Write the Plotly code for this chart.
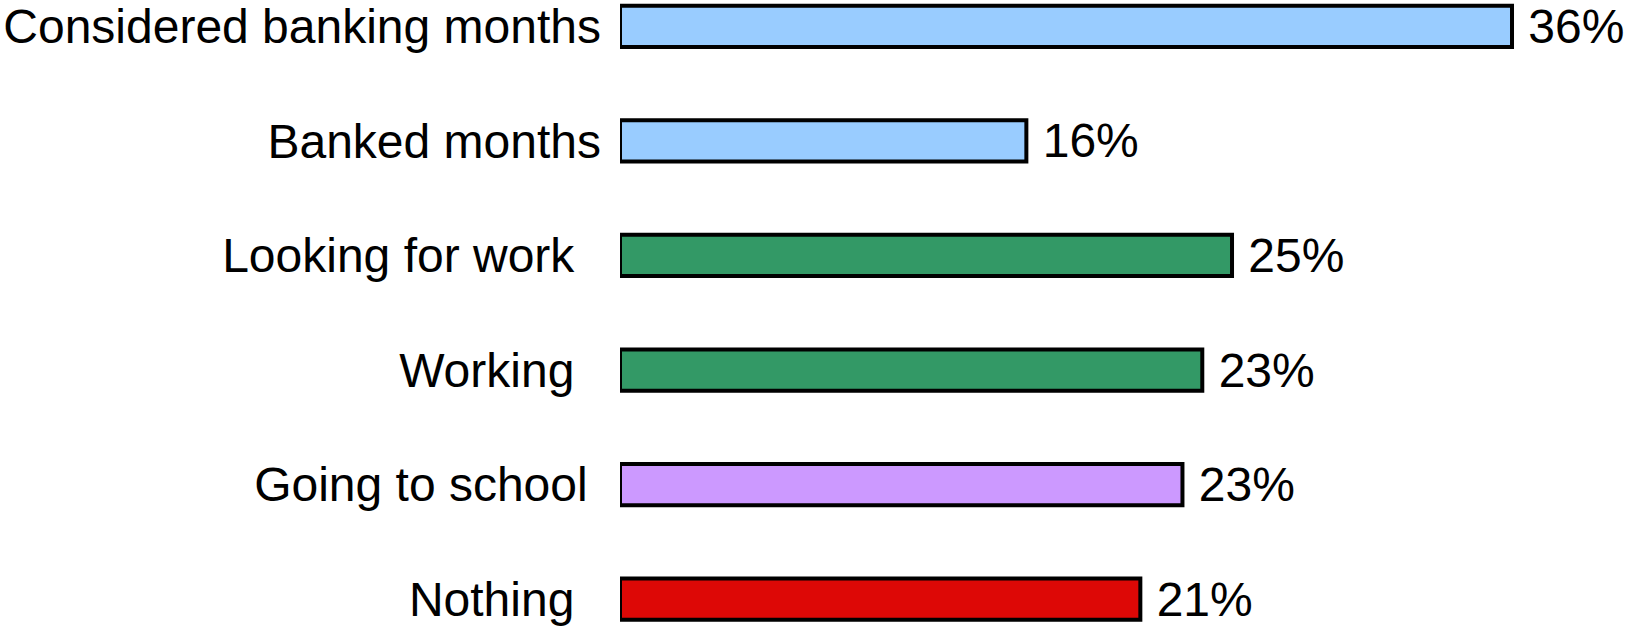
import plotly.graph_objects as go

categories = [
    "Considered banking months",
    "Banked months",
    "Looking for work\u00a0\u00a0",
    "Working\u00a0\u00a0",
    "Going to school\u00a0",
    "Nothing\u00a0\u00a0",
]
values = [36.0, 16.4, 24.7, 23.5, 22.7, 21.0]
value_labels = ["36%", "16%", "25%", "23%", "23%", "21%"]
colors = ["#99CCFF", "#99CCFF", "#339966", "#339966", "#CC99FF", "#DD0806"]

fig = go.Figure(
    go.Bar(
        y=categories,
        x=values,
        orientation="h",
        width=0.36,
        marker=dict(color=colors, line=dict(color="black", width=4)),
        text=["\u00a0" + t for t in value_labels],
        textposition="outside",
        textfont=dict(size=48, color="black", family="Arial, Liberation Sans"),
        constraintext="none",
        cliponaxis=False,
        hoverinfo="skip",
    )
)

fig.update_layout(
    width=1625,
    height=628,
    margin=dict(l=620, r=0, t=0, b=0),
    paper_bgcolor="white",
    plot_bgcolor="white",
    showlegend=False,
    font=dict(family="Arial, Liberation Sans", size=48, color="black"),
    xaxis=dict(range=[0, 40.56], visible=False, fixedrange=True),
    yaxis=dict(
        type="category",
        categoryorder="array",
        categoryarray=categories,
        range=[5.252, -0.213],
        showgrid=False,
        zeroline=False,
        showline=False,
        ticks="",
        ticklabelstandoff=18,
        tickfont=dict(size=48, color="black", family="Arial, Liberation Sans"),
        fixedrange=True,
    ),
)

fig.write_html(
    "out.html",
    config={"displayModeBar": False},
    post_script="document.body.style.margin='0';document.body.style.overflow='hidden';",
)
